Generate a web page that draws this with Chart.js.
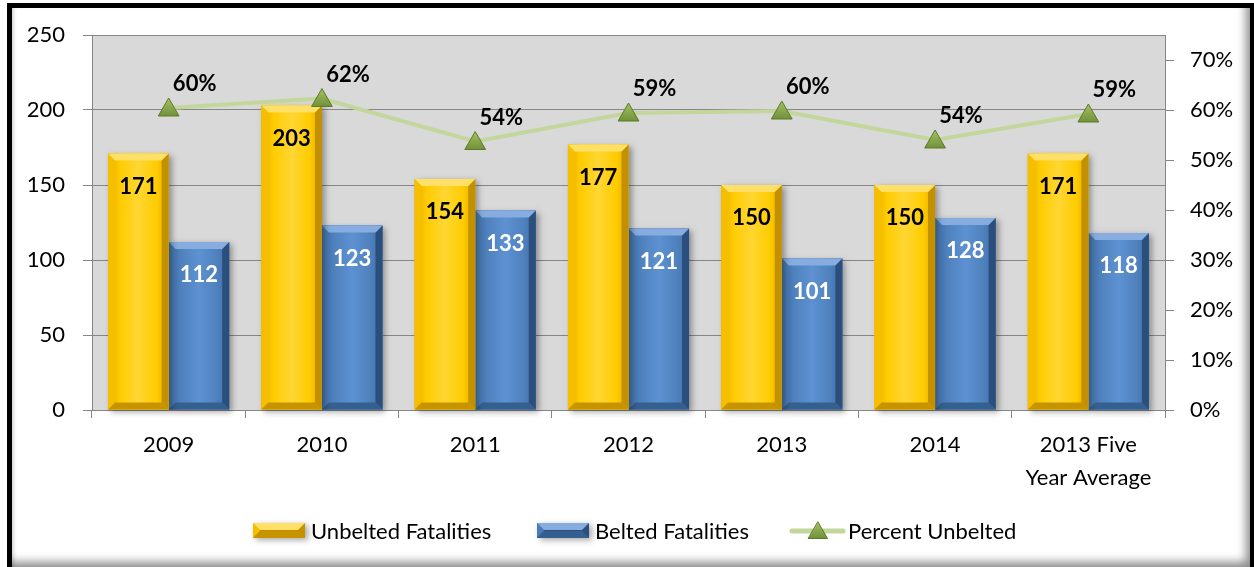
<!DOCTYPE html>
<html>
<head>
<meta charset="utf-8">
<script src="https://cdn.jsdelivr.net/npm/chart.js@4.4.1/dist/chart.umd.min.js"></script>
<style>
  html, body { margin: 0; padding: 0; background: #fff; overflow: hidden; }
  #frame {
    position: absolute; left: 7px; top: 3px;
    width: 1248px; height: 569px; box-sizing: border-box;
    border: 5px solid #000;
    box-shadow: inset -9px -10px 10px -5px rgba(0,0,0,0.45), inset 4px 0 4px -3px rgba(0,0,0,0.25);
  }
  #chart { position: absolute; left: 0; top: 0; }
</style>
</head>
<body>
<div id="frame"></div>
<canvas id="chart" width="1254" height="567"></canvas>
<script>
// chart data
const categories = ['2009', '2010', '2011', '2012', '2013', '2014', ['2013 Five', 'Year Average']];
const unbeltedFatalities = [171, 203, 154, 177, 150, 150, 171];
const beltedFatalities = [112, 123, 133, 121, 101, 128, 118];
const percentUnbelted = [0.604, 0.623, 0.537, 0.594, 0.598, 0.540, 0.592];
const seriesNames = ['Unbelted Fatalities', 'Belted Fatalities', 'Percent Unbelted'];

const FONT = 'Lato, "Noto Sans", sans-serif';
const AXIS_GRAY = '#868686';

// bevel colours for the two bar series
const barLooks = [
    { edge: '#e0aa00', body: '#ffcc00', hi: '#ffd633', top: '#ffe066', left: '#f5bf00', right: '#c29000', bottom: '#c79400', text: '#000' },
    { edge: '#3f6da6', body: '#4f81bd', hi: '#5d91d1', top: '#86ace0', left: '#4a7bb6', right: '#2b4f7d', bottom: '#34608f', text: '#fff' }
];

function drawBevelBar(ctx, el, look) {
    const x0 = el.x - el.width / 2;
    const x1 = el.x + el.width / 2;
    const top = Math.min(el.y, el.base);
    const bottom = Math.max(el.y, el.base);
    const b = Math.min(7, (bottom - top) / 2);

    ctx.save();
    ctx.shadowColor = 'rgba(0,0,0,0.35)';
    ctx.shadowBlur = 6;
    ctx.shadowOffsetX = 3;
    ctx.shadowOffsetY = 2;
    ctx.fillStyle = look.body;
    ctx.fillRect(x0, top, x1 - x0, bottom - top);
    ctx.restore();

    const g = ctx.createLinearGradient(x0, 0, x1, 0);
    g.addColorStop(0, look.edge);
    g.addColorStop(0.2, look.body);
    g.addColorStop(0.5, look.hi);
    g.addColorStop(0.8, look.body);
    g.addColorStop(1, look.edge);
    ctx.fillStyle = g;
    ctx.fillRect(x0, top, x1 - x0, bottom - top);

    const poly = (pts, color) => {
        ctx.beginPath();
        ctx.moveTo(pts[0][0], pts[0][1]);
        for (let i = 1; i < pts.length; i++) ctx.lineTo(pts[i][0], pts[i][1]);
        ctx.closePath();
        ctx.fillStyle = color;
        ctx.fill();
    };
    poly([[x0, top], [x0 + b, top + b], [x0 + b, bottom - b], [x0, bottom]], look.left);
    poly([[x1, top], [x1, bottom], [x1 - b, bottom - b], [x1 - b, top + b]], look.right);
    poly([[x0, bottom], [x1, bottom], [x1 - b, bottom - b], [x0 + b, bottom - b]], look.bottom);
    poly([[x0, top], [x1, top], [x1 - b, top + b], [x0 + b, top + b]], look.top);
}

function drawTriangle(ctx, x, y, r) {
    ctx.save();
    const g = ctx.createLinearGradient(0, y - r, 0, y + r / 2);
    g.addColorStop(0, '#a4c263');
    g.addColorStop(1, '#71913a');
    ctx.beginPath();
    ctx.moveTo(x, y - r);
    ctx.lineTo(x + r * 0.866, y + r / 2);
    ctx.lineTo(x - r * 0.866, y + r / 2);
    ctx.closePath();
    ctx.fillStyle = g;
    ctx.fill();
    ctx.strokeStyle = '#5b7a2a';
    ctx.lineWidth = 1;
    ctx.stroke();
    ctx.restore();
}

const plotBackground = {
    id: 'plotBackground',
    beforeDraw(chart) {
        const { ctx, chartArea: a } = chart;
        ctx.save();
        ctx.fillStyle = '#d9d9d9';
        ctx.fillRect(a.left, a.top, a.right - a.left, a.bottom - a.top);
        ctx.restore();
    }
};

// bars are drawn here with a bevelled look instead of flat rectangles
const bevelBars = {
    id: 'bevelBars',
    beforeDatasetDraw(chart, args) {
        const meta = args.meta;
        if (meta.type !== 'bar') return;
        const ctx = chart.ctx;
        ctx.save();
        meta.data.forEach(el => drawBevelBar(ctx, el, barLooks[args.index]));
        ctx.restore();
        return false;
    },
    afterDatasetDraw(chart, args) {
        const meta = args.meta;
        if (meta.type !== 'line') return;
        meta.data.forEach(el => drawTriangle(chart.ctx, el.x, el.y + 2, 12));
    }
};

const valueLabels = {
    id: 'valueLabels',
    afterDatasetsDraw(chart) {
        const ctx = chart.ctx;
        ctx.save();
        ctx.font = 'bold 22px ' + FONT;
        ctx.textAlign = 'center';
        ctx.textBaseline = 'middle';
        chart.data.datasets.forEach((ds, i) => {
            const meta = chart.getDatasetMeta(i);
            meta.data.forEach((el, j) => {
                if (meta.type === 'bar') {
                    ctx.fillStyle = barLooks[i].text;
                    ctx.fillText(String(ds.data[j]), el.x, el.y + 33);
                } else {
                    ctx.fillStyle = '#000';
                    ctx.fillText(Math.round(ds.data[j] * 100) + '%', el.x + 26, el.y - 24);
                }
            });
        });
        ctx.restore();
    }
};

const customLegend = {
    id: 'customLegend',
    afterDraw(chart) {
        const ctx = chart.ctx;
        const y = 531;
        const starts = [253, 537, 790];
        ctx.save();
        ctx.font = '22px ' + FONT;
        ctx.textBaseline = 'middle';
        ctx.textAlign = 'left';
        starts.forEach((x, i) => {
            if (i < 2) {
                drawBevelBar(ctx, { x: x + 26, width: 52, y: y - 8, base: y + 7 }, { ...barLooks[i], edge: barLooks[i].right, hi: barLooks[i].right, body: barLooks[i].right });
            } else {
                ctx.strokeStyle = '#c3d69b';
                ctx.lineWidth = 5;
                ctx.lineCap = 'round';
                ctx.beginPath();
                ctx.moveTo(x + 2, y);
                ctx.lineTo(x + 53, y);
                ctx.stroke();
                drawTriangle(ctx, x + 28, y + 2, 11);
            }
            ctx.fillStyle = '#000';
            ctx.fillText(seriesNames[i], x + 58, y + 1);
        });
        ctx.restore();
    }
};

new Chart(document.getElementById('chart'), {
    data: {
        labels: categories,
        datasets: [
            {
                type: 'bar', label: seriesNames[0], data: unbeltedFatalities,
                backgroundColor: '#ffcc00', yAxisID: 'y', order: 2,
                categoryPercentage: 0.79, barPercentage: 1.0
            },
            {
                type: 'bar', label: seriesNames[1], data: beltedFatalities,
                backgroundColor: '#4f81bd', yAxisID: 'y', order: 2,
                categoryPercentage: 0.79, barPercentage: 1.0
            },
            {
                type: 'line', label: seriesNames[2], data: percentUnbelted,
                yAxisID: 'y1', order: 1,
                borderColor: '#c3d69b', borderWidth: 4, tension: 0,
                pointRadius: 0, pointHoverRadius: 0
            }
        ]
    },
    options: {
        responsive: false,
        animation: false,
        layout: { padding: { top: 35, bottom: 77, left: 0, right: 0 } },
        plugins: { legend: { display: false }, tooltip: { enabled: false } },
        scales: {
            x: {
                grid: { drawOnChartArea: false, offset: true, tickLength: 8, color: AXIS_GRAY },
                border: { color: AXIS_GRAY },
                ticks: { font: { family: FONT, size: 22, lineHeight: 1.5 }, color: '#000', padding: 10, maxRotation: 0, autoSkip: false },
                afterFit(s) { s.height = 80; }
            },
            y: {
                position: 'left', min: 0, max: 250,
                grid: { color: AXIS_GRAY, tickLength: 9 },
                border: { color: AXIS_GRAY },
                ticks: { stepSize: 50, font: { family: FONT, size: 22 }, color: '#000', padding: 18 },
                afterFit(s) { s.width = 92; }
            },
            y1: {
                position: 'right', min: 0, max: 0.75,
                grid: { drawOnChartArea: false, color: AXIS_GRAY, tickLength: 9 },
                border: { color: AXIS_GRAY },
                ticks: {
                    stepSize: 0.1, font: { family: FONT, size: 22 }, color: '#000', padding: 16,
                    callback: v => Math.round(v * 100) + '%'
                },
                afterBuildTicks(s) { s.ticks = s.ticks.filter(t => t.value <= 0.7001); },
                afterFit(s) { s.width = 89; }
            }
        }
    },
    plugins: [plotBackground, bevelBars, valueLabels, customLegend]
});
</script>
</body>
</html>
